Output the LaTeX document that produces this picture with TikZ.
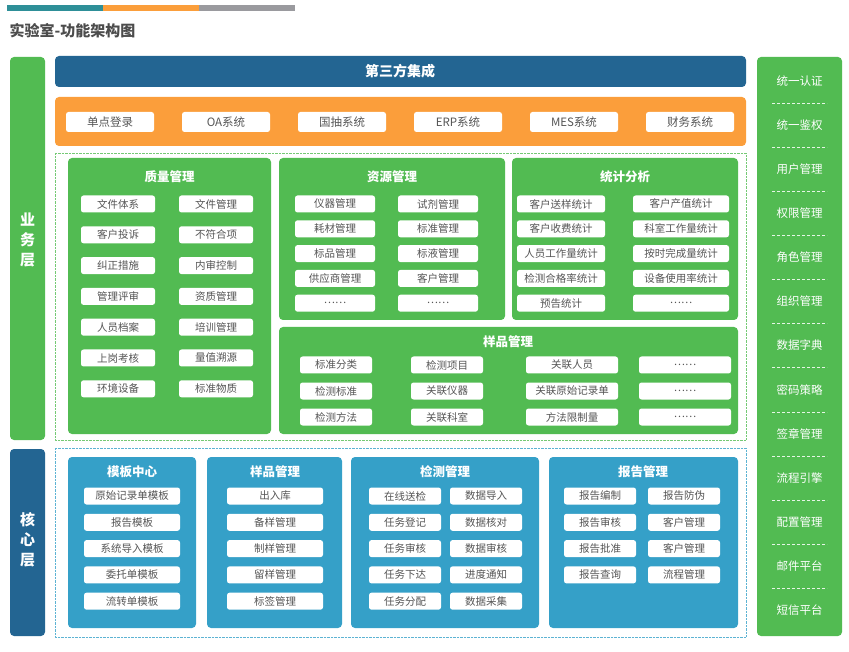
\documentclass[tikz,border=0pt]{standalone}
\usepackage{fontspec}
\setmainfont{Noto Sans CJK SC}
\newcommand\cjkb{\bfseries}
\newcommand\dd{\kern0pt……}
\definecolor{gr}{HTML}{52BB52}
\definecolor{db}{HTML}{236592}
\definecolor{og}{HTML}{FB9E3B}
\definecolor{lb}{HTML}{35A0C8}
\definecolor{tl}{HTML}{2E8F98}
\definecolor{gy}{HTML}{9A9A9E}
\definecolor{tx}{HTML}{555555}
\begin{document}
\begin{tikzpicture}[x=1pt,y=-1pt,
  panel/.style={rounded corners=4pt,inner sep=0},
  itm/.style={fill=white,rounded corners=2.5pt,minimum height=17pt,inner sep=0,text=tx,font=\fontsize{10.5}{11}\selectfont},
  ttl/.style={text=white,font=\cjkb\fontsize{12.5}{13}\selectfont},
  rt/.style={text=white,font=\fontsize{11.5}{12}\selectfont}]
\useasboundingbox (0,0) rectangle (849,652);
\fill[tl] (7,5) rectangle (103,11);
\fill[og] (103,5) rectangle (199,11);
\fill[gy] (199,5) rectangle (295,11);
\node[anchor=west,text=black!70,font=\cjkb\fontsize{15}{16}\selectfont] (title) at (6,31) {实验室-功能架构图};
% side bars
\fill[gr,panel] (10,57) rectangle (45,440);
\node[ttl,align=center,font=\cjkb\fontsize{15}{20}\selectfont] (yw) at (27.5,240) {业\\务\\层};
\fill[db,panel] (10,449) rectangle (45,636);
\node[ttl,align=center,font=\cjkb\fontsize{15}{20}\selectfont] (hx) at (27.5,540) {核\\心\\层};
% top bars
\fill[db,panel] (55,56) rectangle (746,87);
\node[ttl,font=\cjkb\fontsize{14}{15}\selectfont] (dsf) at (400,71.5) {第三方集成};
\fill[og,panel] (55,97) rectangle (746,146);
\foreach \t [count=\i] in {单点登录,OA系统,国抽系统,ERP系统,MES系统,财务系统}
  \node[itm,minimum width=88pt,minimum height=20pt,font=\fontsize{11.5}{12}\selectfont] (o\i) at (110+116*\i-116,122) {\t};
% business frame
\draw[gr!80,densely dotted] (55,153) rectangle (746,440);
\fill[gr,panel] (68,158) rectangle (271,434);
\node[ttl] (q) at (169.5,177) {质量管理};
\foreach \a/\b [count=\i] in {文件体系/文件管理,客户投诉/不符合项,纠正措施/内审控制,管理评审/资质管理,人员档案/培训管理,上岗考核/量值溯源,环境设备/标准物质}{
  \node[itm,minimum width=74pt] (qa\i) at (118,204+30.8*\i-30.8) {\a};
  \node[itm,minimum width=74pt] (qb\i) at (216,204+30.8*\i-30.8) {\b};}
\fill[gr,panel] (279,158) rectangle (505,320);
\node[ttl] (r) at (392,177) {资源管理};
\foreach \a/\b [count=\i] in {仪器管理/试剂管理,耗材管理/标准管理,标品管理/标液管理,供应商管理/客户管理,\dd/\dd}{
  \node[itm,minimum width=80pt] (ra\i) at (335,204+24.8*\i-24.8) {\a};
  \node[itm,minimum width=80pt] (rb\i) at (438,204+24.8*\i-24.8) {\b};}
\fill[gr,panel] (512,158) rectangle (738,320);
\node[ttl] (s) at (625,177) {统计分析};
\foreach \a/\b [count=\i] in {客户送样统计/客户产值统计,客户收费统计/科室工作量统计,人员工作量统计/按时完成量统计,检测合格率统计/设备使用率统计,预告统计/\dd}{
  \node[itm,minimum width=88pt] (sa\i) at (561,204+24.8*\i-24.8) {\a};
  \node[itm,minimum width=96pt] (sb\i) at (681,204+24.8*\i-24.8) {\b};}
\fill[gr,panel] (279,327) rectangle (738,434);
\node[ttl] (yp) at (508,342) {样品管理};
\foreach \a/\b/\c/\d [count=\i] in {标准分类/检测项目/关联人员/\dd,检测标准/关联仪器/关联原始记录单/\dd,检测方法/关联科室/方法限制量/\dd}{
  \node[itm,minimum width=72pt] (ya\i) at (336,365+26*\i-26) {\a};
  \node[itm,minimum width=72pt] (yb\i) at (447,365+26*\i-26) {\b};
  \node[itm,minimum width=92pt] (yc\i) at (572,365+26*\i-26) {\c};
  \node[itm,minimum width=92pt] (yd\i) at (685,365+26*\i-26) {\d};}
% core frame
\draw[lb!80,densely dotted] (55,448) rectangle (746,637);
\fill[lb,panel] (68,457) rectangle (196,628);
\node[ttl] (mb) at (132,472) {模板中心};
\foreach \a [count=\i] in {原始记录单模板,报告模板,系统导入模板,委托单模板,流转单模板}
  \node[itm,minimum width=96pt] (m\i) at (132,496+26.3*\i-26.3) {\a};
\fill[lb,panel] (207,457) rectangle (342,628);
\node[ttl] (cy) at (275,472) {样品管理};
\foreach \a [count=\i] in {出入库,备样管理,制样管理,留样管理,标签管理}
  \node[itm,minimum width=96pt] (c\i) at (275,496+26.3*\i-26.3) {\a};
\fill[lb,panel] (351,457) rectangle (539,628);
\node[ttl] (jc) at (445,472) {检测管理};
\foreach \a/\b [count=\i] in {在线送检/数据导入,任务登记/数据核对,任务审核/数据审核,任务下达/进度通知,任务分配/数据采集}{
  \node[itm,minimum width=72pt] (ja\i) at (405,496+26.3*\i-26.3) {\a};
  \node[itm,minimum width=72pt] (jb\i) at (486,496+26.3*\i-26.3) {\b};}
\fill[lb,panel] (549,457) rectangle (738,628);
\node[ttl] (bg) at (643,472) {报告管理};
\foreach \a/\b [count=\i] in {报告编制/报告防伪,报告审核/客户管理,报告批准/客户管理,报告查询/流程管理}{
  \node[itm,minimum width=72pt] (ba\i) at (600,496+26.3*\i-26.3) {\a};
  \node[itm,minimum width=72pt] (bb\i) at (684,496+26.3*\i-26.3) {\b};}
% right column
\fill[gr,panel] (757,57) rectangle (842,636);
\foreach \a [count=\i] in {统一认证,统一鉴权,用户管理,权限管理,角色管理,组织管理,数据字典,密码策略,签章管理,流程引擎,配置管理,邮件平台,短信平台}
  \node[rt] (rc\i) at (799.5,81+44.1*\i-44.1) {\a};
\foreach \i in {1,...,12}
  \draw[white!85!gr,densely dashed] (772,103+44.1*\i-44.1) -- (827,103+44.1*\i-44.1);
\end{tikzpicture}
\end{document}
